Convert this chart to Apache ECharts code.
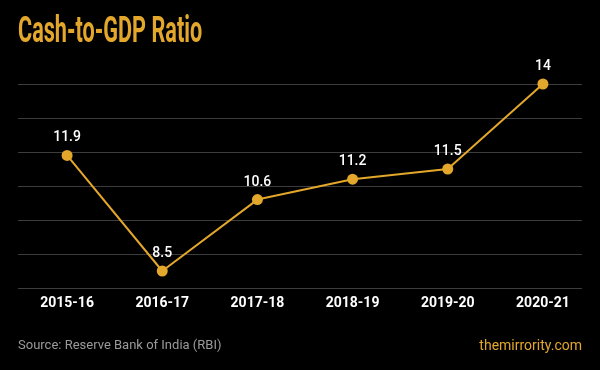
<!DOCTYPE html>
<html><head><meta charset="utf-8">
<script src="https://cdn.jsdelivr.net/npm/echarts@6/dist/echarts.min.js"></script>
<style>html,body{margin:0;padding:0;background:#000;}#c{width:600px;height:370px;}</style>
</head><body><div id="c"></div>
<script>
const categories = ['2015-16','2016-17','2017-18','2018-19','2019-20','2020-21'];
const values = [11.9, 8.5, 10.6, 11.2, 11.5, 14];
const yMin = 8, yMax = 14, yStep = 1;
const titleText = 'Cash-to-GDP Ratio';
const sourceText = 'Source: Reserve Bank of India (RBI)';
const brandText = 'themirrority.com';

const gold = '#E3A72B';
const chart = echarts.init(document.getElementById('c'));
chart.setOption({
  backgroundColor: '#000',
  animation: false,
  grid: [
    {left: 18, right: 18, top: 84, bottom: 82},
    {left: 19.5, right: 9.5, top: 84, bottom: 82}
  ],
  xAxis: [
    {gridIndex: 0, type: 'category', data: categories, show: false},
    {gridIndex: 1, type: 'category', data: categories, boundaryGap: true,
     axisLine: {show: false}, axisTick: {show: false},
     axisLabel: {color: '#fff', fontFamily: 'Roboto', fontWeight: 'bold', fontSize: 14, margin: 8}}
  ],
  yAxis: [
    {gridIndex: 0, type: 'value', min: yMin, max: yMax, interval: yStep,
     axisLabel: {show: false}, axisLine: {show: false}, axisTick: {show: false},
     splitLine: {lineStyle: {color: '#3d3d3d', width: 1}}},
    {gridIndex: 1, type: 'value', min: yMin, max: yMax, interval: yStep, show: false,
     splitLine: {show: false}}
  ],
  series: [{
    type: 'line', xAxisIndex: 1, yAxisIndex: 1, data: values,
    symbol: 'circle', symbolSize: 11,
    lineStyle: {color: gold, width: 2},
    itemStyle: {color: gold},
    label: {show: true, position: 'top', distance: 5, color: '#fff',
      fontFamily: 'Roboto', fontWeight: 500, fontSize: 14}
  }],
  graphic: [
    {type: 'text', left: 18, top: 14, scaleX: 0.585,
     style: {text: titleText, fill: gold, font: 'bold 37px Roboto'}},
    {type: 'text', left: 18, top: 339,
     style: {text: sourceText, fill: '#9a9a9a', font: '13px Roboto'}},
    {type: 'text', right: 18, top: 339,
     style: {text: brandText, fill: gold, font: '14px Roboto'}}
  ]
});
</script></body></html>
